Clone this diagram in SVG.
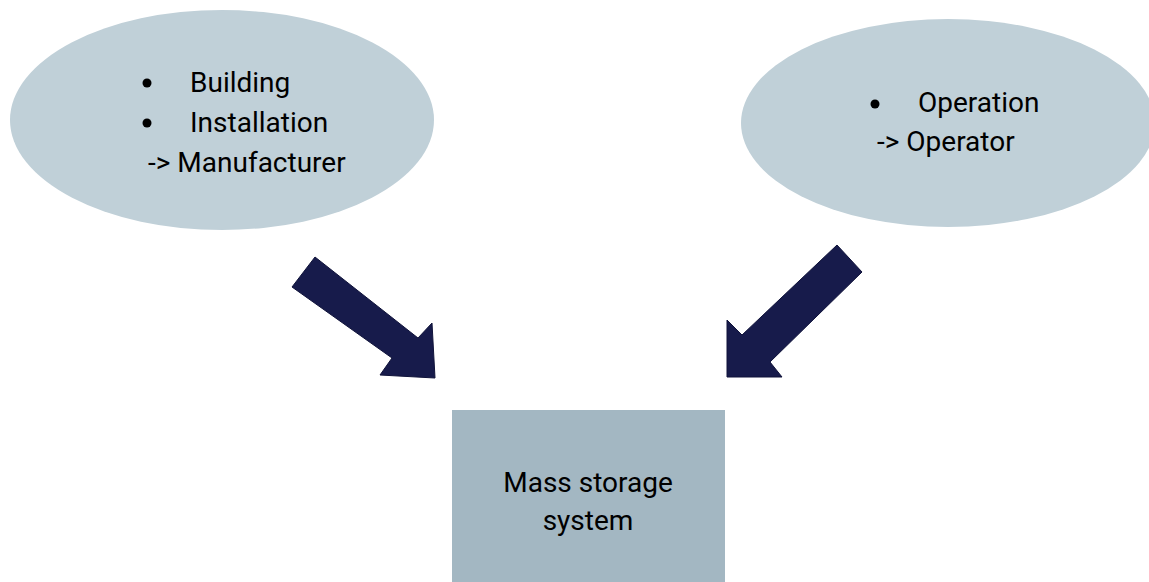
<svg xmlns="http://www.w3.org/2000/svg" width="1149" height="582" viewBox="0 0 1149 582">
<style>
.ell{fill:#c0d0d8}
.box{fill:#a3b7c2}
.t{font-family:Roboto,"Liberation Sans",sans-serif;font-size:28px;fill:#000}
.arrow{fill:#171b4b;stroke:#10133a;stroke-width:1;stroke-linejoin:miter}
</style>
<rect width="1149" height="582" fill="#ffffff"/>
<g id="node-manufacturer">
<ellipse class="ell" cx="222" cy="120" rx="212" ry="110"/>
<circle cx="147" cy="83" r="4.5"/>
<text class="t" x="190" y="92">Building</text>
<circle cx="147" cy="123" r="4.5"/>
<text class="t" x="190" y="132">Installation</text>
<text class="t" x="148" y="172">-&gt; Manufacturer</text>
</g>
<g id="node-operator">
<ellipse class="ell" cx="948" cy="123" rx="207" ry="104"/>
<circle cx="875" cy="104" r="4.5"/>
<text class="t" x="918" y="112">Operation</text>
<text class="t" x="877" y="151">-&gt; Operator</text>
</g>
<g id="node-storage">
<rect class="box" x="452" y="410" width="273" height="180"/>
<text class="t" x="588" y="492" text-anchor="middle">Mass storage</text>
<text class="t" x="588" y="530" text-anchor="middle">system</text>
</g>
<g id="connectors">
<polygon class="arrow" points="315,257 418,338 432,323 435,378 380,375 392,358 292,287"/>
<polygon class="arrow" points="837,245 862,272 770,362 782,377 727,377 727,320 742,335"/>
</g>
</svg>
